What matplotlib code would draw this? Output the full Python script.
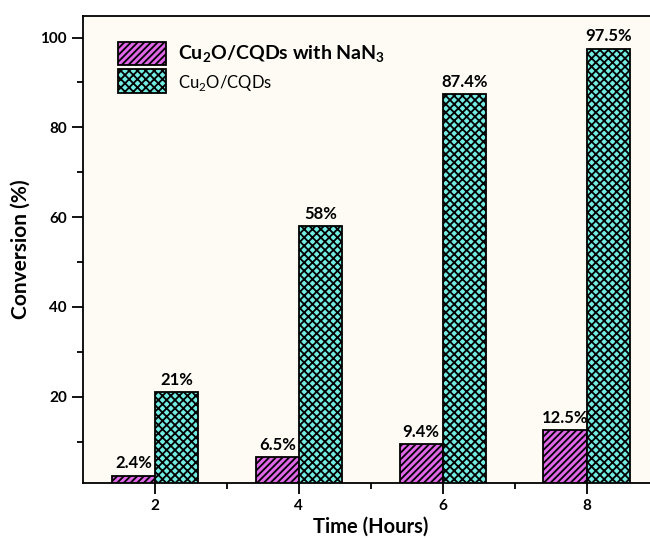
import matplotlib
matplotlib.use("Agg")
import matplotlib.pyplot as plt
from matplotlib.ticker import FixedLocator
import numpy as np

# data
hours = [2, 4, 6, 8]
with_nan3 = [2.4, 6.5, 9.4, 12.5]
without = [21, 58, 87.4, 97.5]
labels_nan3 = ["2.4%", "6.5%", "9.4%", "12.5%"]
labels_plain = ["21%", "58%", "87.4%", "97.5%"]
series_names = ["Cu$_\\mathbf{2}$O/CQDs with NaN$_\\mathbf{3}$", "Cu$_2$O/CQDs"]

plt.rcParams["font.family"] = ["Lato", "DejaVu Sans"]
plt.rcParams["hatch.linewidth"] = 1.3
plt.rcParams["mathtext.fontset"] = "custom"
plt.rcParams["mathtext.rm"] = "Lato"
plt.rcParams["mathtext.bf"] = "Lato:bold"

fig = plt.figure(figsize=(6.5, 5.38), dpi=100)
fig.patch.set_facecolor("white")
ax = fig.add_axes([0.1277, 0.1028, 0.8854, 0.8675])
ax.set_facecolor("#fdfbf4")

x = np.array(hours, dtype=float)
w = 0.6
b1 = ax.bar(x - w / 2, with_nan3, w, color="#e066e8", edgecolor="black",
            linewidth=1.3, hatch="/////", label=series_names[0])
b2 = ax.bar(x + w / 2, without, w, color="#72ece2", edgecolor="black",
            linewidth=1.3, hatch="xxxx", label=series_names[1])

for rect, txt in zip(b1, labels_nan3):
    ax.text(rect.get_x() + rect.get_width() / 2, rect.get_height() + 1.0, txt,
            ha="center", va="bottom", fontsize=12, fontweight="bold")
for rect, txt in zip(b2, labels_plain):
    ax.text(rect.get_x() + rect.get_width() / 2, rect.get_height() + 1.0, txt,
            ha="center", va="bottom", fontsize=12, fontweight="bold")

ax.set_xlim(1, 9)
ax.set_ylim(0.87, 104.8)
ax.xaxis.set_major_locator(FixedLocator(hours))
ax.xaxis.set_minor_locator(FixedLocator([3, 5, 7, 9]))
ax.yaxis.set_major_locator(FixedLocator([20, 40, 60, 80, 100]))
ax.yaxis.set_minor_locator(FixedLocator([10, 30, 50, 70, 90]))
ax.tick_params(which="major", direction="out", length=8, width=1.3, labelsize=11)
ax.tick_params(which="minor", direction="out", length=4, width=1.3)
for lab in ax.get_xticklabels() + ax.get_yticklabels():
    lab.set_fontweight("bold")
for sp in ax.spines.values():
    sp.set_linewidth(1.3)

ax.set_xlabel("Time (Hours)", fontsize=14.5, fontweight="bold", labelpad=3)
ax.set_ylabel("Conversion (%)", fontsize=15, fontweight="bold", labelpad=7)

leg = ax.legend(loc="upper left", bbox_to_anchor=(0.04, 0.97), frameon=False,
                handlelength=2.5, handleheight=1.5, handletextpad=0.6,
                labelspacing=0.2, fontsize=14, borderaxespad=0.2)
leg.get_texts()[0].set_fontweight("bold")
leg.get_texts()[1].set_fontsize(12)

fig.savefig("out.png", dpi=100)
